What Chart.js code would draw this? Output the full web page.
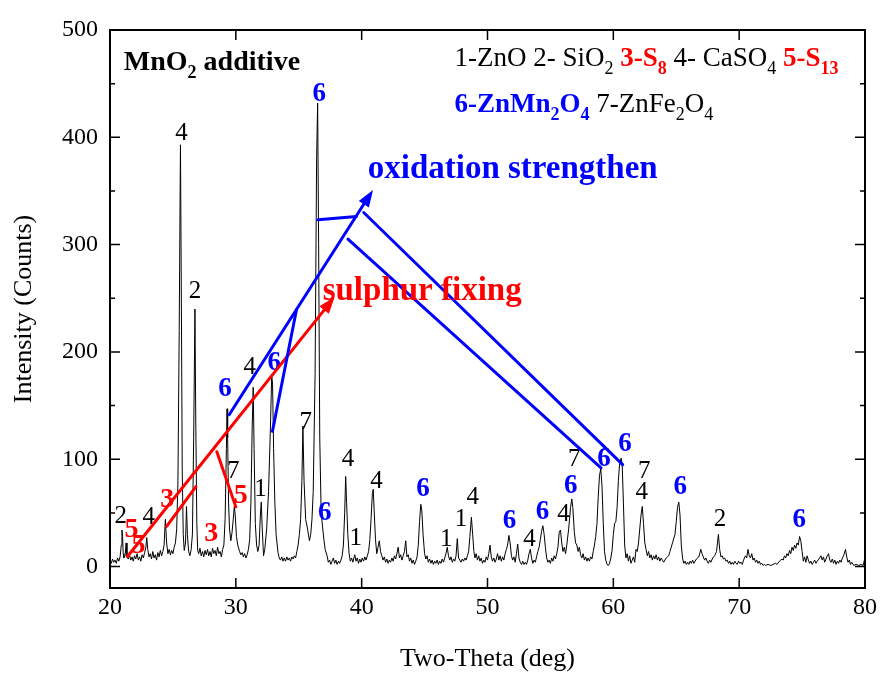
<!DOCTYPE html>
<html>
<head>
<meta charset="utf-8">
<script src="https://cdn.jsdelivr.net/npm/chart.js@4.4.1/dist/chart.umd.min.js"></script>
<style>
html, body { margin: 0; padding: 0; background: #fff; }
#wrap { width: 882px; height: 675px; position: relative; }
</style>
</head>
<body>
<div id="wrap"><canvas id="xrdChart"></canvas></div>
<script>
// scan, row by row (one row per degree)
const twoTheta = [
  20.0, 20.1, 20.2, 20.3, 20.4, 20.5, 20.6, 20.7, 20.8, 20.9,
  20.95, 21.0, 21.05, 21.1, 21.2, 21.28, 21.35, 21.45, 21.55, 21.65, 21.75, 21.85, 21.95,
  22.05, 22.15, 22.25, 22.35, 22.45, 22.55, 22.65, 22.75, 22.85, 22.92,
  23.0, 23.1, 23.2, 23.3, 23.4, 23.5, 23.6, 23.7, 23.8, 23.9,
  24.0, 24.1, 24.2, 24.3, 24.4, 24.5, 24.6, 24.7, 24.8, 24.9,
  25.0, 25.1, 25.2, 25.3, 25.4, 25.5, 25.6, 25.67, 25.74, 25.82, 25.9,
  26.0, 26.08, 26.15, 26.25, 26.35, 26.45, 26.55, 26.65, 26.75, 26.82, 26.9, 26.97,
  27.05, 27.15, 27.25, 27.35, 27.45, 27.55, 27.65, 27.75, 27.85, 27.95,
  28.05, 28.15, 28.25, 28.35, 28.45, 28.55, 28.65, 28.75, 28.85, 28.95,
  29.05, 29.15, 29.25, 29.3, 29.35, 29.42, 29.5, 29.6, 29.7, 29.8, 29.88, 29.95,
  30.05, 30.15, 30.3, 30.4, 30.5, 30.6, 30.7, 30.8, 30.9,
  31.0, 31.1, 31.2, 31.3, 31.38, 31.45, 31.55, 31.65, 31.75, 31.85, 31.95,
  32.02, 32.1, 32.2, 32.3, 32.45, 32.6, 32.75, 32.85, 32.92,
  33.0, 33.1, 33.2, 33.35, 33.45, 33.55, 33.65, 33.75, 33.85, 33.95,
  34.05, 34.15, 34.25, 34.35, 34.45, 34.55, 34.65, 34.75, 34.85, 34.95,
  35.05, 35.15, 35.25, 35.33, 35.42, 35.55, 35.7, 35.85, 35.95,
  36.05, 36.15, 36.3, 36.42, 36.5, 36.58, 36.67, 36.78, 36.9,
  37.0, 37.1, 37.25, 37.35, 37.45, 37.55, 37.65, 37.75, 37.85, 37.95,
  38.05, 38.15, 38.25, 38.35, 38.45, 38.55, 38.65, 38.73, 38.8, 38.9,
  39.0, 39.1, 39.2, 39.3, 39.45, 39.55, 39.65, 39.75, 39.85, 39.95,
  40.05, 40.15, 40.25, 40.35, 40.45, 40.55, 40.65, 40.75, 40.85, 40.92,
  41.0, 41.1, 41.2, 41.3, 41.4, 41.5, 41.6, 41.7, 41.8, 41.9,
  42.0, 42.1, 42.2, 42.3, 42.4, 42.5, 42.6, 42.7, 42.8, 42.9,
  43.0, 43.1, 43.2, 43.3, 43.4, 43.5, 43.6, 43.7, 43.8, 43.9,
  44.0, 44.1, 44.2, 44.3, 44.4, 44.5, 44.6, 44.7, 44.78, 44.88,
  45.0, 45.1, 45.2, 45.3, 45.4, 45.5, 45.6, 45.7, 45.8, 45.9,
  46.0, 46.1, 46.2, 46.3, 46.4, 46.5, 46.6, 46.7, 46.8, 46.9,
  47.0, 47.1, 47.2, 47.3, 47.4, 47.5, 47.6, 47.7, 47.8, 47.9,
  48.0, 48.1, 48.2, 48.3, 48.4, 48.5, 48.6, 48.72, 48.82, 48.92,
  49.0, 49.1, 49.2, 49.3, 49.4, 49.5, 49.6, 49.7, 49.8, 49.9,
  50.0, 50.1, 50.2, 50.3, 50.4, 50.5, 50.6, 50.7, 50.8, 50.9,
  51.0, 51.1, 51.2, 51.3, 51.4, 51.5, 51.6, 51.7, 51.8, 51.9,
  52.0, 52.1, 52.2, 52.3, 52.4, 52.5, 52.6, 52.7, 52.8, 52.9,
  53.0, 53.1, 53.2, 53.3, 53.4, 53.5, 53.6, 53.7, 53.8, 53.9,
  54.0, 54.1, 54.2, 54.3, 54.4, 54.5, 54.6, 54.7, 54.8, 54.9,
  55.0, 55.1, 55.2, 55.3, 55.4, 55.5, 55.6, 55.7, 55.8, 55.9,
  56.0, 56.1, 56.2, 56.3, 56.45, 56.6, 56.7, 56.78, 56.9,
  57.0, 57.1, 57.2, 57.3, 57.4, 57.5, 57.6, 57.7, 57.8, 57.9,
  58.0, 58.1, 58.2, 58.3, 58.4, 58.5, 58.6, 58.7, 58.8, 58.9,
  59.0, 59.1, 59.2, 59.3, 59.4, 59.5, 59.6, 59.7, 59.8, 59.9,
  60.0, 60.1, 60.2, 60.3, 60.4, 60.5, 60.62, 60.7, 60.8, 60.9,
  61.0, 61.1, 61.2, 61.3, 61.4, 61.5, 61.6, 61.7, 61.8, 61.9,
  62.0, 62.1, 62.2, 62.3, 62.4, 62.5, 62.6, 62.7, 62.8, 62.9,
  63.0, 63.1, 63.2, 63.3, 63.4, 63.5, 63.6, 63.7, 63.8, 63.9,
  64.0, 64.2, 64.4, 64.5, 64.7, 64.9,
  65.0, 65.1, 65.2, 65.3, 65.4, 65.5, 65.6, 65.7, 65.8, 65.9,
  66.0, 66.1, 66.2, 66.3, 66.4, 66.6, 66.8, 66.95,
  67.05, 67.15, 67.25, 67.35, 67.45, 67.55, 67.65, 67.75, 67.9,
  68.05, 68.2, 68.35, 68.45, 68.55, 68.65, 68.75, 68.85, 68.95,
  69.05, 69.15, 69.25, 69.35, 69.45, 69.55, 69.65, 69.75, 69.85, 69.95,
  70.05, 70.15, 70.25, 70.35, 70.5, 70.6, 70.7, 70.8, 70.9,
  71.0, 71.1, 71.2, 71.3, 71.4, 71.5, 71.6, 71.7, 71.8, 71.9,
  72.0, 72.1, 72.3, 72.5, 72.7, 72.9,
  73.0, 73.2, 73.4, 73.5, 73.6, 73.7, 73.8, 73.9,
  74.0, 74.1, 74.2, 74.3, 74.4, 74.5, 74.6, 74.7, 74.8, 74.9,
  75.0, 75.1, 75.2, 75.3, 75.4, 75.5, 75.6, 75.7, 75.8, 75.9,
  76.0, 76.1, 76.2, 76.4, 76.5, 76.6, 76.7, 76.8, 76.9,
  77.0, 77.1, 77.2, 77.3, 77.4, 77.5, 77.6, 77.7, 77.8, 77.9,
  78.0, 78.1, 78.2, 78.3, 78.45, 78.55, 78.65, 78.75, 78.85, 78.95,
  79.1, 79.3, 79.5, 79.7, 79.85, 79.95, 80.0
];
const counts = [
  5, 3, 7, 4, 6, 3, 8, 5, 9, 20,
  34, 28, 12, 8, 10, 22, 9, 7, 11, 6, 9, 5, 10,
  7, 12, 6, 9, 5, 11, 8, 13, 18, 27,
  16, 9, 12, 7, 14, 8, 11, 6, 13, 9,
  15, 10, 14, 20, 44, 22, 12, 16, 11, 15,
  12, 18, 22, 35, 80, 220, 393, 250, 90, 30, 15,
  22, 56, 30, 14, 10, 16, 30, 120, 240, 130, 40, 15,
  12, 17, 10, 14, 9, 15, 11, 16, 10, 14,
  9, 17, 12, 15, 10, 18, 12, 14, 9, 16,
  20, 45, 110, 147, 120, 60, 35, 24, 32, 45, 56, 48,
  28, 20, 14, 11, 13, 9, 12, 8, 11,
  16, 25, 60, 130, 167, 110, 40, 20, 14, 20, 48,
  60, 35, 10, 16, 35, 70, 130, 178, 170,
  110, 60, 30, 13, 8, 6, 9, 5, 8, 5,
  9, 6, 8, 5, 9, 7, 10, 8, 14, 20,
  30, 44, 80, 131, 80, 44, 35, 24, 30,
  44, 70, 180, 380, 432, 300, 120, 50, 36,
  25, 16, 10, 4, 6, 2, 5, 8, 3, 6,
  2, 5, 3, 6, 10, 20, 50, 84, 60, 30,
  12, 5, 8, 4, 11, 5, 8, 3, 7, 4,
  8, 5, 9, 6, 10, 14, 25, 45, 68, 72,
  50, 25, 12, 18, 24, 14, 10, 6, 9, 4,
  7, 3, 6, 4, 8, 5, 10, 7, 12, 18,
  8, 11, 6, 10, 14, 24, 9, 11, 5, 8,
  3, 6, 2, 5, 9, 20, 42, 58, 52, 30,
  12, 7, 10, 4, 7, 3, 6, 2, 5, 3,
  6, 2, 5, 3, 7, 4, 8, 12, 18, 10,
  6, 9, 4, 7, 5, 10, 26, 8, 6, 4,
  7, 5, 8, 6, 10, 14, 28, 46, 30, 14,
  8, 12, 6, 10, 5, 8, 3, 6, 4, 9,
  6, 12, 20, 9, 5, 8, 4, 7, 12, 6,
  10, 5, 9, 6, 12, 16, 20, 29, 22, 10,
  6, 9, 4, 12, 21, 8, 4, 2, 5, 2,
  4, 2, 6, 12, 16, 8, 3, 6, 4, 9,
  14, 18, 25, 33, 38, 30, 18, 8, 4, 6,
  3, 8, 5, 10, 7, 12, 18, 32, 34, 22,
  14, 18, 12, 20, 35, 55, 63, 55, 32,
  22, 20, 14, 18, 11, 8, 12, 6, 9, 5,
  8, 5, 9, 7, 14, 20, 28, 40, 65, 85,
  91, 75, 40, 14, 6, 2, 1, 3, 8, 15,
  30, 40, 42, 55, 80, 96, 101, 96, 60, 20,
  8, 12, 5, 10, 3, 6, 9, 4, 16, 14,
  22, 35, 48, 56, 40, 22, 16, 10, 14, 8,
  11, 6, 10, 7, 11, 6, 9, 5, 8, 6,
  4, 8, 10, 14, 22, 30,
  42, 55, 60, 48, 20, 8, 3, 5, 2, 4,
  2, 5, 3, 6, 3, 7, 9, 16,
  12, 9, 6, 8, 5, 3, 6, 4, 8,
  10, 14, 30, 16, 9, 10, 7, 8, 5,
  6, 3, 5, 2, 4, 2, 5, 3, 2, 5,
  3, 4, 2, 6, 10, 8, 16, 10, 8,
  12, 6, 8, 4, 6, 3, 5, 2, 3, 1,
  2, 1, 2, 1, 2, 3,
  2, 5, 7, 6, 10, 8, 12, 10,
  15, 12, 18, 15, 20, 17, 22, 20, 28, 24,
  14, 5, 9, 4, 10, 6, 3, 5, 2, 4,
  6, 3, 5, 8, 10, 6, 9, 4, 7,
  10, 12, 6, 4, 7, 3, 6, 2, 5, 3,
  6, 4, 8, 10, 16, 9, 4, 6, 2, 4,
  1, 2, 1, 2, 1, 6, 4
];

// axis ticks
const xTicks = [20, 30, 40, 50, 60, 70, 80];
const yTicks = [0, 100, 200, 300, 400, 500];
const yMinor = [50, 150, 250, 350, 450];

// phase labels on the peaks: [text, twoTheta, counts]
const blackMarks = [
  ['2', 20.85, 47], ['4', 23.07, 46], ['4', 25.69, 404], ['2', 26.75, 256],
  ['7', 29.79, 89], ['4', 31.11, 186], ['1', 31.96, 72], ['7', 35.56, 134],
  ['4', 38.91, 100], ['1', 39.52, 26], ['4', 41.17, 79], ['1', 46.72, 25],
  ['1', 47.9, 44], ['4', 48.83, 64], ['4', 53.33, 25], ['4', 56.03, 49],
  ['7', 56.9, 100], ['7', 62.46, 89], ['4', 62.25, 69], ['2', 68.47, 44]
];
const blueMarks = [
  ['6', 36.62, 440], ['6', 29.13, 165], ['6', 33.05, 190], ['6', 37.06, 50],
  ['6', 44.87, 72], ['6', 51.75, 42], ['6', 54.37, 51], ['6', 56.62, 75],
  ['6', 59.25, 100], ['6', 60.92, 114], ['6', 65.32, 74], ['6', 74.78, 43]
];
const redMarks = [
  ['5', 21.7, 34.5], ['5', 22.27, 19.5], ['3', 24.55, 62], ['3', 28.04, 30.4], ['5', 30.4, 66]
];

// guide lines: [x1, y1, x2, y2, arrowhead]
const redLines = [
  [21.39, 9.3, 37.86, 251.4, true],
  [24.5, 37.5, 26.83, 74.5, false],
  [28.49, 107, 30.0, 55.6, false]
];
const blueLines = [
  [29.47, 141.5, 40.9, 351, true],
  [32.91, 126, 34.82, 239.3, false],
  [36.53, 323.1, 39.58, 326.2, false],
  [40.16, 329.9, 60.74, 95, false],
  [38.91, 305.1, 59.02, 91.9, false]
];

const FONT = '"Liberation Serif", "Times New Roman", serif';
// k = plain black, K = bold black, r = bold red, b = bold blue
const colors = { k: '#000000', K: '#000000', r: '#ff0000', b: '#0000ff' };

// text with subscripts: parts are [text, style key, subscript?]
function drawRich(ctx, x, y, parts, size) {
  let cx = x;
  for (const [txt, c, sub] of parts) {
    const s = sub ? Math.round(size * 0.65) : size;
    ctx.font = (c === 'k' ? '' : 'bold ') + s + 'px ' + FONT;
    ctx.fillStyle = colors[c];
    ctx.fillText(txt, cx, sub ? y + size * 0.28 : y);
    cx += ctx.measureText(txt).width;
  }
}

function drawLine(ctx, x1, y1, x2, y2, arrow) {
  ctx.beginPath();
  ctx.moveTo(x1, y1);
  if (arrow) {
    // stop the shaft under the head
    const a = Math.atan2(y2 - y1, x2 - x1);
    ctx.lineTo(x2 - 10 * Math.cos(a), y2 - 10 * Math.sin(a));
    ctx.stroke();
    ctx.beginPath();
    ctx.moveTo(x2, y2);
    ctx.lineTo(x2 - 17 * Math.cos(a) + 6 * Math.sin(a), y2 - 17 * Math.sin(a) - 6 * Math.cos(a));
    ctx.lineTo(x2 - 17 * Math.cos(a) - 6 * Math.sin(a), y2 - 17 * Math.sin(a) + 6 * Math.cos(a));
    ctx.closePath();
    ctx.fill();
  } else {
    ctx.lineTo(x2, y2);
    ctx.stroke();
  }
}

const overlay = {
  id: 'overlay',
  afterDatasetsDraw(chart) {
    const ctx = chart.ctx;
    const area = chart.chartArea;
    const X = v => chart.scales.x.getPixelForValue(v);
    const Y = v => chart.scales.y.getPixelForValue(v);
    ctx.save();

    // box frame and inward ticks
    ctx.strokeStyle = '#000';
    ctx.lineWidth = 2;
    ctx.strokeRect(area.left, area.top, area.right - area.left, area.bottom - area.top);
    ctx.lineWidth = 1.5;
    ctx.beginPath();
    for (const v of xTicks) {
      ctx.moveTo(X(v), area.bottom); ctx.lineTo(X(v), area.bottom - 10);
      ctx.moveTo(X(v), area.top); ctx.lineTo(X(v), area.top + 10);
    }
    for (const v of yTicks) {
      ctx.moveTo(area.left, Y(v)); ctx.lineTo(area.left + 10, Y(v));
      ctx.moveTo(area.right, Y(v)); ctx.lineTo(area.right - 10, Y(v));
    }
    for (const v of yMinor) {
      ctx.moveTo(area.left, Y(v)); ctx.lineTo(area.left + 5, Y(v));
      ctx.moveTo(area.right, Y(v)); ctx.lineTo(area.right - 5, Y(v));
    }
    ctx.stroke();

    // peak labels
    ctx.textAlign = 'center';
    ctx.textBaseline = 'middle';
    ctx.font = '25px ' + FONT;
    ctx.fillStyle = colors.k;
    for (const [t, x, y] of blackMarks) ctx.fillText(t, X(x), Y(y));
    ctx.font = 'bold 27px ' + FONT;
    ctx.fillStyle = colors.b;
    for (const [t, x, y] of blueMarks) ctx.fillText(t, X(x), Y(y));
    ctx.font = 'bold 28px ' + FONT;
    ctx.fillStyle = colors.r;
    for (const [t, x, y] of redMarks) ctx.fillText(t, X(x), Y(y));

    // guide lines
    ctx.lineWidth = 3;
    ctx.lineCap = 'round';
    ctx.strokeStyle = colors.r; ctx.fillStyle = colors.r;
    for (const [x1, y1, x2, y2, a] of redLines) drawLine(ctx, X(x1), Y(y1), X(x2), Y(y2), a);
    ctx.strokeStyle = colors.b; ctx.fillStyle = colors.b;
    for (const [x1, y1, x2, y2, a] of blueLines) drawLine(ctx, X(x1), Y(y1), X(x2), Y(y2), a);

    // captions
    ctx.textAlign = 'left';
    ctx.textBaseline = 'alphabetic';
    ctx.font = 'bold 33px ' + FONT;
    ctx.fillStyle = colors.b;
    ctx.fillText('oxidation strengthen', X(40.48), Y(362));
    ctx.fillStyle = colors.r;
    ctx.fillText('sulphur fixing', X(36.9), Y(248.6));

    drawRich(ctx, X(21.1), Y(462.8), [['MnO', 'K'], ['2', 'K', true], [' additive', 'K']], 28);
    drawRich(ctx, X(47.38), Y(466.5), [
      ['1-ZnO 2- SiO', 'k'], ['2', 'k', true], [' ', 'k'], ['3-S', 'r'], ['8', 'r', true],
      [' 4- CaSO', 'k'], ['4', 'k', true], [' ', 'k'], ['5-S', 'r'], ['13', 'r', true]
    ], 27);
    drawRich(ctx, X(47.38), Y(423.6), [
      ['6-ZnMn', 'b'], ['2', 'b', true], ['O', 'b'], ['4', 'b', true],
      [' 7-ZnFe', 'k'], ['2', 'k', true], ['O', 'k'], ['4', 'k', true]
    ], 27);
    ctx.restore();
  }
};

const points = twoTheta.map((t, i) => ({ x: t, y: counts[i] }));

new Chart(document.getElementById('xrdChart'), {
  type: 'line',
  data: {
    datasets: [{
      data: points,
      borderColor: '#000',
      borderWidth: 1,
      pointRadius: 0,
      fill: false,
      tension: 0
    }]
  },
  options: {
    responsive: true,
    maintainAspectRatio: false,
    animation: false,
    layout: { padding: { top: 30, right: 16, left: 0, bottom: 0 } },
    plugins: { legend: { display: false }, tooltip: { enabled: false } },
    scales: {
      x: {
        type: 'linear', min: 20, max: 80,
        afterBuildTicks: s => { s.ticks = xTicks.map(v => ({ value: v })); },
        afterFit: s => { s.height = 87; },
        grid: { display: false, drawTicks: false },
        border: { display: false },
        ticks: { font: { family: FONT, size: 24 }, color: '#000', padding: 5, maxRotation: 0 },
        title: { display: true, text: 'Two-Theta (deg)', color: '#000', font: { family: FONT, size: 26 }, padding: { top: 0, bottom: 0 } }
      },
      y: {
        type: 'linear', min: -20, max: 500,
        afterBuildTicks: s => { s.ticks = yTicks.map(v => ({ value: v })); },
        afterFit: s => { s.width = 110; },
        grid: { display: false, drawTicks: false },
        border: { display: false },
        ticks: { font: { family: FONT, size: 24 }, color: '#000', padding: 12 },
        title: { display: true, text: 'Intensity (Counts)', color: '#000', font: { family: FONT, size: 26 }, padding: { top: 9, bottom: 0 } }
      }
    }
  },
  plugins: [overlay]
});
</script>
</body>
</html>
